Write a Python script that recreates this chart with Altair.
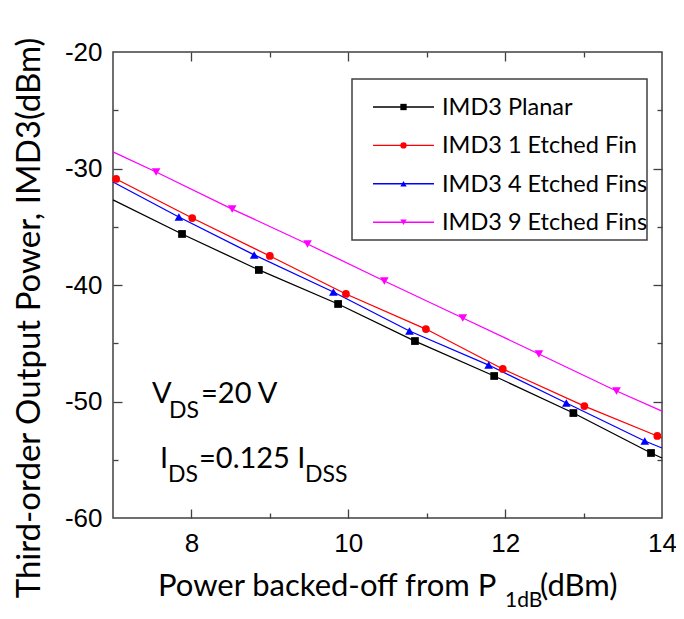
import altair as alt
import pandas as pd

# ---------------- data ----------------
series_names = ["IMD3 Planar", "IMD3 1 Etched Fin", "IMD3 4 Etched Fins", "IMD3 9 Etched Fins"]
series_colors = ["#000000", "#ff0000", "#0000ff", "#ff00ff"]
series_shapes = ["square", "circle", "triangle-up", "triangle-down"]

planar_x = [7.88, 8.86, 9.87, 10.85, 11.86, 12.87, 13.86]
planar_y = [-35.62, -38.71, -41.63, -44.81, -47.81, -50.99, -54.42]
fin1_x = [7.04, 8.01, 9.00, 9.97, 10.99, 11.97, 13.01, 13.94]
fin1_y = [-30.90, -34.25, -37.51, -40.77, -43.78, -47.21, -50.39, -52.96]
fin4_x = [7.84, 8.80, 9.81, 10.78, 11.79, 12.78, 13.78]
fin4_y = [-34.16, -37.42, -40.60, -43.95, -46.87, -50.13, -53.39]
fin9_x = [7.55, 8.52, 9.48, 10.46, 11.46, 12.43, 13.42]
fin9_y = [-30.30, -33.48, -36.48, -39.66, -42.83, -45.92, -49.10]

# line values where each fitted line meets the frame
edge_x = [7.0, 14.0]
planar_edge_y = [-32.70, -54.85]
fin1_edge_y = [-30.73, -53.13]
fin4_edge_y = [-31.16, -53.99]
fin9_edge_y = [-28.58, -50.82]

x_major = [8, 10, 12, 14]
x_minor = [9, 11, 13]
x_inner_major = [8, 10, 12]
y_major = [-20, -30, -40, -50, -60]
y_inner_major = [-30, -40, -50]
y_minor = [-25, -35, -45, -55]

x_title_parts = ["Power backed-off from P", "1dB", "(dBm)"]
y_title = "Third-order Output Power, IMD3(dBm)"
vds_parts = ["V", "DS", "=20 V"]
ids_parts = ["I", "DS", "=0.125 I", "DSS"]

# ---------------- tables ----------------
xs_all = [planar_x, fin1_x, fin4_x, fin9_x]
ys_all = [planar_y, fin1_y, fin4_y, fin9_y]
edges_all = [planar_edge_y, fin1_edge_y, fin4_edge_y, fin9_edge_y]

series_tables = [pd.DataFrame({"series": n, "x": xs, "y": ys}) for n, xs, ys in zip(series_names, xs_all, ys_all)]
pts = pd.concat(series_tables, ignore_index=True)
lines = pd.concat(
    [pts] + [pd.DataFrame({"series": n, "x": edge_x, "y": e}) for n, e in zip(series_names, edges_all)],
    ignore_index=True,
)

xscale = alt.Scale(domain=[7, 14], nice=False, zero=False)
yscale = alt.Scale(domain=[-60, -20], nice=False, zero=False)
color_scale = alt.Scale(domain=series_names, range=series_colors)

FRAME = "#404040"
TXT_FONT = "Lato"

# lines + axis labels
line_layer = alt.Chart(lines).mark_line(strokeWidth=1.3).encode(
    x=alt.X("x:Q", scale=xscale, axis=alt.Axis(
        orient="bottom", values=x_major, ticks=False, domain=False, grid=False,
        labelPadding=12, labelFlush=False, labelOverlap=False, labelExpr="'' + datum.value", title=None)),
    y=alt.Y("y:Q", scale=yscale, axis=alt.Axis(
        orient="left", values=y_major, ticks=False, domain=False, grid=False,
        labelPadding=11, labelFlush=False, labelOverlap=False, labelExpr="'' + datum.value", title=None)),
    color=alt.Color("series:N", scale=color_scale, legend=None),
    order=alt.Order("x:Q"),
)

marker_sizes = [60, 60, 75, 75]
point_layers = [
    alt.Chart(tbl).mark_point(filled=True, opacity=1, shape=shp, size=sz, color=col).encode(
        x=alt.X("x:Q", scale=xscale, axis=None),
        y=alt.Y("y:Q", scale=yscale, axis=None),
    )
    for tbl, shp, sz, col in zip(series_tables, series_shapes, marker_sizes, series_colors)
]


def tick_layer(xo, xv, yo, yv, size):
    return alt.Chart(pts).mark_point(opacity=0).encode(
        x=alt.X("x:Q", scale=xscale, axis=alt.Axis(
            orient=xo, values=xv, labels=False, domain=False, grid=False, ticks=True,
            tickSize=size, offset=-size, title=None)),
        y=alt.Y("y:Q", scale=yscale, axis=alt.Axis(
            orient=yo, values=yv, labels=False, domain=False, grid=False, ticks=True,
            tickSize=size, offset=-size, title=None)),
    )


ticks = [
    tick_layer("bottom", x_inner_major, "left", y_inner_major, 9),
    tick_layer("bottom", x_minor, "left", y_minor, 5),
    tick_layer("top", x_inner_major, "right", y_inner_major, 9),
    tick_layer("top", x_minor, "right", y_minor, 5),
]


def text_piece(txt, px, py, size, angle=0, align="left", baseline="alphabetic"):
    return alt.Chart(pd.DataFrame({"t": [txt]})).mark_text(
        font=TXT_FONT, fontSize=size, color="black", align=align, baseline=baseline, angle=angle,
    ).encode(x=alt.value(px), y=alt.value(py), text="t:N")


texts = [
    text_piece(x_title_parts[0], 45, 544, 31),
    text_piece(x_title_parts[1], 392, 555, 21),
    text_piece(x_title_parts[2], 427, 544, 31),
    text_piece(y_title, -83, 266, 33, angle=270, align="center", baseline="middle"),
    text_piece(vds_parts[0], 39, 351, 29),
    text_piece(vds_parts[1], 56, 366, 23),
    text_piece(vds_parts[2], 88, 351, 29),
    text_piece(ids_parts[0], 47, 416, 29),
    text_piece(ids_parts[1], 55, 430, 23),
    text_piece(ids_parts[2], 86, 416, 29),
    text_piece(ids_parts[3], 192, 430, 23),
]

# ---------------- legend (framed box, line sample + marker + label per row) ----------------
LEG_LEFT, LEG_TOP, LEG_RIGHT, LEG_BOTTOM = 239, 27, 534, 188
ROW0, ROW_STEP = 55, 38.4
SAMPLE_X0, SAMPLE_X1, LABEL_X = 260, 321, 329

legend_layers = [
    alt.Chart(pd.DataFrame({"t": [""]})).mark_rect(
        fill=None, stroke=FRAME, strokeWidth=1.5, filled=False
    ).encode(
        x=alt.value(LEG_LEFT), x2=alt.value(LEG_RIGHT),
        y=alt.value(LEG_TOP), y2=alt.value(LEG_BOTTOM),
    )
]
for i, (name, col, shp) in enumerate(zip(series_names, series_colors, series_shapes)):
    row_y = ROW0 + ROW_STEP * i
    entry = pd.DataFrame({"series": [name]})
    legend_layers.append(
        alt.Chart(entry).mark_rule(color=col, strokeWidth=1.4).encode(
            x=alt.value(SAMPLE_X0), x2=alt.value(SAMPLE_X1), y=alt.value(row_y)
        )
    )
    legend_layers.append(
        alt.Chart(entry).mark_point(filled=True, opacity=1, shape=shp, size=40, color=col).encode(
            x=alt.value((SAMPLE_X0 + SAMPLE_X1) / 2), y=alt.value(row_y)
        )
    )
    legend_layers.append(
        alt.Chart(entry).mark_text(
            font=TXT_FONT, fontSize=23.5, color="black", align="left", baseline="middle"
        ).encode(x=alt.value(LABEL_X), y=alt.value(row_y + 1), text="series:N")
    )

chart = alt.layer(
    *ticks, line_layer, *point_layers, *legend_layers, *texts
).resolve_axis(
    x="independent", y="independent"
).properties(
    width=549, height=466,
    padding={"left": 105, "top": 44, "right": 14, "bottom": 93},
    autosize=alt.AutoSizeParams(type="none"),
    background="white",
).configure_view(
    stroke=FRAME, strokeWidth=1.5
).configure_axis(
    labelFont="Liberation Sans", labelFontSize=26, labelColor="black",
    tickColor=FRAME, tickWidth=1.3,
)

chart.save("out.html", embed_options={"renderer": "svg", "actions": False})
